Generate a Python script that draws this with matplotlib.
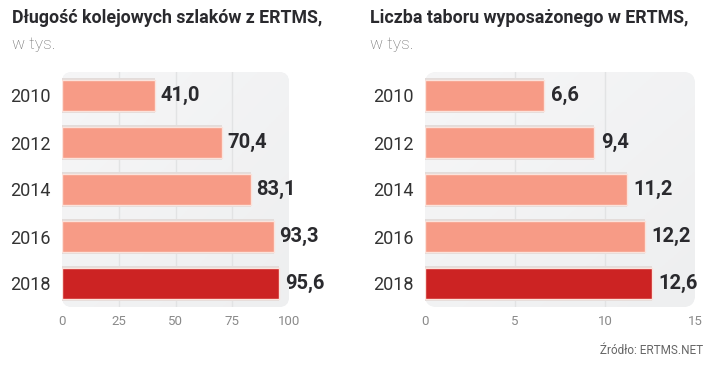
import numpy as np
import matplotlib.pyplot as plt
from matplotlib.patches import FancyBboxPatch
from matplotlib.colors import LinearSegmentedColormap

plt.rcParams['font.family'] = ['Roboto', 'DejaVu Sans']

# data
years = ['2010', '2012', '2014', '2016', '2018']
track_km = [41.0, 70.4, 83.1, 93.3, 95.6]
rolling_stock = [6.6, 9.4, 11.2, 12.2, 12.6]

titles = ['Długość kolejowych szlaków z ERTMS,', 'Liczba taboru wyposażonego w ERTMS,']
subtitle = 'w tys.'
xticks_left = [0, 25, 50, 75, 100]
xticks_right = [0, 5, 10, 15]
source = 'Źródło: ERTMS.NET'

light = '#f79b86'
dark = '#cc2323'

fig = plt.figure(figsize=(7.2, 3.72), dpi=100)
fig.patch.set_facecolor('white')


def draw_panel(rect, values, ticks, title, title_x):
    ax = fig.add_axes(rect)
    xmax = ticks[-1]
    ypos = np.arange(len(values))

    # rounded gradient background
    bg = FancyBboxPatch((0, 0), 1, 1, boxstyle='round,pad=0,rounding_size=0.045',
                        transform=ax.transAxes, facecolor='#f1f2f3', edgecolor='none',
                        zorder=0, mutation_aspect=rect[2] / rect[3] * 720 / 372)
    ax.add_patch(bg)
    grad = np.linspace(0, 1, 100)[None, :] * 0.5 + np.linspace(0, 1, 100)[:, None] * 0.5
    im = ax.imshow(grad, extent=[0, xmax, len(values) - 0.5, -0.5], aspect='auto',
                   cmap=LinearSegmentedColormap.from_list('bg', ['#f6f6f7', '#eeeff0']),
                   zorder=0.5)
    im.set_clip_path(bg)

    for t in ticks[1:-1]:
        ax.axvline(t, color='#e2e3e4', lw=1, zorder=1)

    colors = [light] * (len(values) - 1) + [dark]
    # soft shadow outline
    ax.barh(ypos, values, height=0.74, color='#e3dcda', edgecolor='none', zorder=2)
    ax.barh(ypos, values, height=0.66, color=colors, edgecolor='#fbe3dc',
            linewidth=1.0, zorder=3)

    for y, v in zip(ypos, values):
        ax.text(v + xmax * 0.025, y, f'{v:.1f}'.replace('.', ','), va='center', ha='left',
                fontsize=14.5, fontweight='bold', color='#2a2a2e', zorder=4, clip_on=False)

    ax.set_xlim(0, xmax)
    ax.set_ylim(len(values) - 0.5, -0.5)
    ax.set_xticks(ticks)
    ax.set_xticklabels([str(t) for t in ticks], fontsize=9.5, color='#8a8a8a')
    ax.set_yticks(ypos)
    ax.set_yticklabels(years, fontsize=13, color='#333333')
    ax.tick_params(length=0, axis='x', pad=6)
    ax.tick_params(length=0, axis='y', pad=8)
    for s in ax.spines.values():
        s.set_visible(False)
    ax.set_facecolor('none')

    fig.text(title_x, 1 - 18 / 372, title, fontsize=12.8, fontweight='bold',
             color='#2a2a2e', va='center', ha='left')
    fig.text(title_x, 1 - 45 / 372, subtitle, fontsize=12.5, color='#6e6e6e',
             va='center', ha='left', fontweight='light')
    return ax


draw_panel([62 / 720, 65 / 372, 227 / 720, 235 / 372], track_km, xticks_left,
           titles[0], 12 / 720)
draw_panel([425 / 720, 65 / 372, 270 / 720, 235 / 372], rolling_stock, xticks_right,
           titles[1], 370 / 720)

fig.text(703 / 720, 1 - 350 / 372, source, fontsize=8.5, color='#666666',
         ha='right', va='center')

plt.savefig('out.png', dpi=100)
